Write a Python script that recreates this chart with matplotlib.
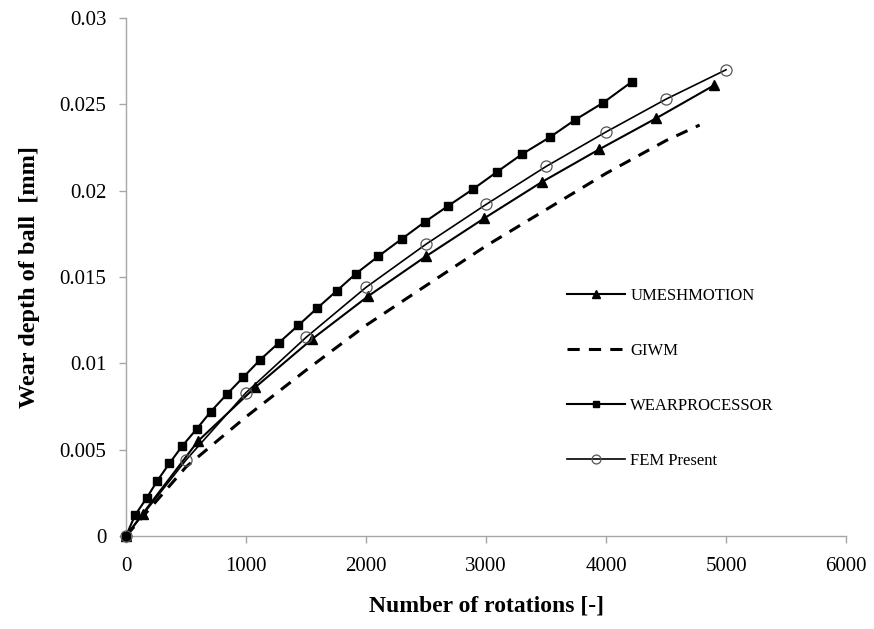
import matplotlib
matplotlib.use("Agg")
import matplotlib.pyplot as plt
from matplotlib.ticker import FuncFormatter

plt.rcParams['font.family'] = ['Liberation Serif', 'DejaVu Serif']

# Wear depth of ball [mm] versus number of rotations
umesh_x = [0, 140, 600, 1075, 1550, 2020, 2500, 2985, 3465, 3945, 4420, 4900]
umesh_y = [0, 0.0013, 0.0055, 0.0086, 0.0114, 0.0139, 0.0162, 0.0184, 0.0205, 0.0224, 0.0242, 0.0261]

giwm_x = [0, 500, 1000, 1500, 2000, 2500, 3000, 3500, 4000, 4500, 4780]
giwm_y = [0, 0.0040, 0.0069, 0.0096, 0.0122, 0.0145, 0.0168, 0.0189, 0.0210, 0.0229, 0.0238]

wp_x = [0, 75, 172, 261, 361, 467, 589, 706, 839, 978, 1117, 1275, 1436, 1594,
        1756, 1917, 2103, 2297, 2492, 2681, 2894, 3094, 3297, 3533, 3742, 3978, 4214]
wp_y = [0, 0.0012, 0.0022, 0.0032, 0.0042, 0.0052, 0.0062, 0.0072, 0.0082, 0.0092,
        0.0102, 0.0112, 0.0122, 0.0132, 0.0142, 0.0152, 0.0162, 0.0172, 0.0182,
        0.0191, 0.0201, 0.0211, 0.0221, 0.0231, 0.0241, 0.0251, 0.0263]

fem_x = [0, 500, 1000, 1500, 2000, 2500, 3000, 3500, 4000, 4500, 5000]
fem_y = [0, 0.0044, 0.0083, 0.0115, 0.0144, 0.0169, 0.0192, 0.0214, 0.0234, 0.0253, 0.0270]

x_ticks = [0, 1000, 2000, 3000, 4000, 5000, 6000]
y_ticks = [0, 0.005, 0.01, 0.015, 0.02, 0.025, 0.03]

fig = plt.figure(figsize=(8.74, 6.29), dpi=100)
ax = fig.add_axes([0.1442, 0.1479, 0.8238, 0.8235])

ax.plot(umesh_x, umesh_y, color='black', lw=1.5, marker='^', ms=7,
        mfc='black', mec='black', label='UMESHMOTION', zorder=3, clip_on=False)
ax.plot(giwm_x, giwm_y, color='black', lw=2.2, ls=(0, (4, 3)),
        label='GIWM', zorder=2, clip_on=False)
ax.plot(wp_x, wp_y, color='black', lw=1.5, marker='s', ms=6,
        mfc='black', mec='black', label='WEARPROCESSOR', zorder=3, clip_on=False)
ax.plot(fem_x, fem_y, color='black', lw=1.2, marker='o', ms=8,
        mfc='none', mec='#555555', mew=0.9, label='FEM Present', zorder=4, clip_on=False)

ax.set_xlim(0, 6000)
ax.set_ylim(0, 0.03)
ax.set_xticks(x_ticks)
ax.set_yticks(y_ticks)
ax.yaxis.set_major_formatter(FuncFormatter(lambda v, p: f"{v:g}"))

for s in ['top', 'right']:
    ax.spines[s].set_visible(False)
for s in ['left', 'bottom']:
    ax.spines[s].set_color('#a6a6a6')
    ax.spines[s].set_linewidth(1.0)
ax.tick_params(axis='both', direction='out', length=5, width=1.0,
               color='#a6a6a6', labelsize=15)
ax.tick_params(axis='x', pad=10)
ax.tick_params(axis='y', pad=9)

ax.set_xlabel('Number of rotations [-]', fontsize=17, fontweight='bold', labelpad=14)
ax.set_ylabel('Wear depth of ball  [mm]', fontsize=17.5, fontweight='bold', labelpad=14)

ax.legend(loc='center left', bbox_to_anchor=(0.6125, 0.304), frameon=False,
          fontsize=12, handlelength=3.5, labelspacing=2.35, handletextpad=0.3,
          borderpad=0, borderaxespad=0, markerscale=0.8)

fig.savefig('out.png', dpi=100)
